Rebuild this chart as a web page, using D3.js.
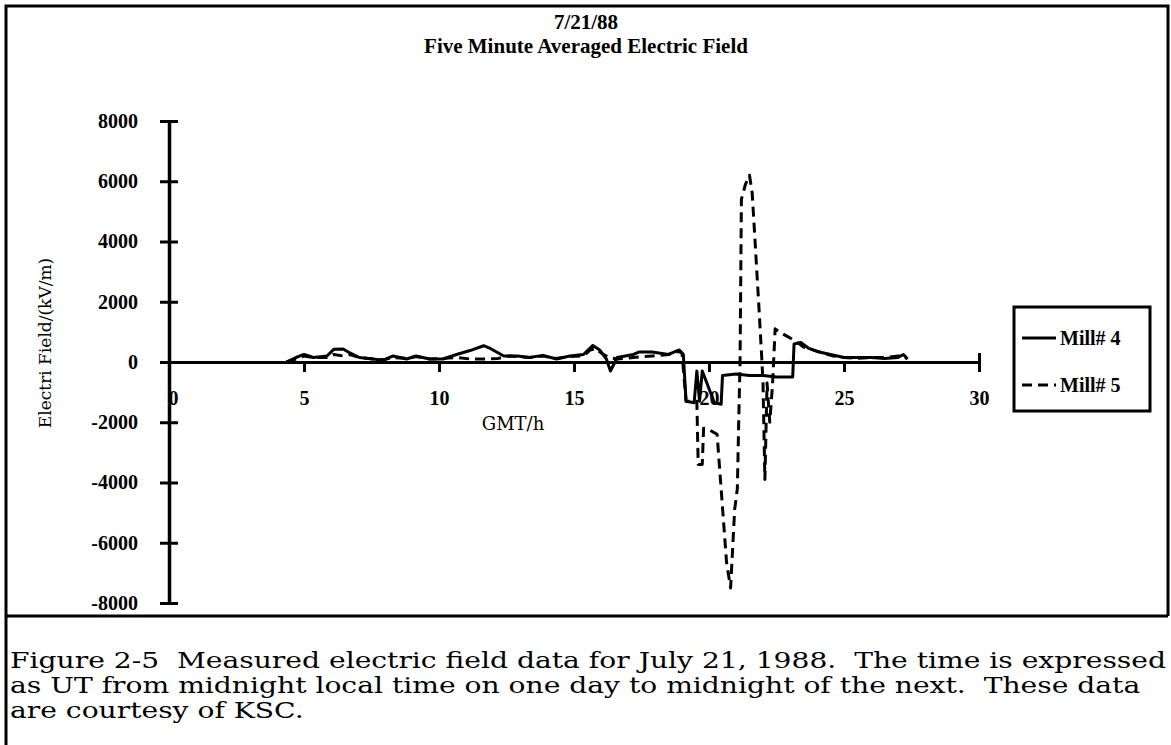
<!DOCTYPE html>
<html>
<head>
<meta charset="utf-8">
<script src="https://cdn.jsdelivr.net/npm/d3@7"></script>
<style>
  body { margin: 0; background: #fff; }
  .caption { white-space: pre; }
</style>
</head>
<body>
<script>
// hours (GMT) and field values
var mill4Time = [4.35, 4.7, 5.0, 5.35, 5.85, 6.1, 6.45, 6.7, 7.05, 7.55, 7.95, 8.3, 8.8, 9.15, 9.65, 10.15, 10.65, 11.15, 11.65, 11.9,
  12.4, 12.9, 13.35, 13.85, 14.35, 14.85, 15.35, 15.7, 15.95, 16.2, 16.35, 16.6, 17.2, 17.4, 17.9, 18.5, 18.9, 19.05, 19.15, 19.45,
  19.55, 19.65, 19.75, 20.2, 20.45, 20.5, 21.0, 21.5, 22.0, 22.5, 23.1, 23.15, 23.4, 23.7, 24.0, 24.5, 25.0, 25.5, 26.0, 26.5,
  27.0, 27.2, 27.35];
var mill4Field = [0, 150, 250, 150, 200, 420, 430, 300, 150, 100, 60, 200, 100, 200, 100, 100, 250, 380, 540, 450,
  200, 200, 150, 220, 100, 200, 250, 550, 400, 100, -300, 150, 250, 330, 330, 250, 400, 250, -1300, -1350,
  -300, -1300, -300, -1350, -1400, -450, -400, -450, -450, -500, -500, 600, 650, 450, 350, 250, 150, 150, 150, 120,
  150, 250, 100];

var mill5Time = [4.35, 4.7, 5.0, 5.35, 5.85, 6.1, 6.45, 6.7, 7.05, 7.55, 7.95, 8.3, 8.8, 9.15, 9.65, 10.15, 10.65, 11.15, 11.65, 12.2,
  12.6, 12.9, 13.35, 13.85, 14.35, 14.85, 15.35, 15.6, 15.8, 16.0, 16.3, 16.6, 17.2, 17.9, 18.5, 18.85, 19.0, 19.15, 19.55, 19.6,
  19.75, 19.8, 20.0, 20.3, 20.65, 20.8, 20.95, 21.05, 21.1, 21.15, 21.2, 21.35, 21.5, 21.6, 21.7, 21.85, 21.95, 22.0, 22.07, 22.15,
  22.25, 22.35, 22.45, 22.6, 22.9, 23.2, 23.5, 23.8, 24.2, 24.6, 25.0, 25.5, 26.0, 26.5, 27.0, 27.2, 27.35];
var mill5Field = [0, 100, 200, 150, 150, 250, 200, 250, 150, 100, 80, 150, 120, 180, 100, 120, 150, 100, 100, 120,
  200, 180, 150, 200, 120, 180, 200, 400, 450, 300, 150, 100, 150, 200, 250, 350, 300, -1300, -1300, -3400,
  -3400, -2200, -2250, -2400, -6650, -7500, -4900, -4200, -2000, 0, 5400, 5900, 6200, 5600, 4100, 1800, 200, -700, -3900, -700,
  -2000, -800, 1100, 1000, 850, 700, 500, 420, 300, 200, 150, 120, 150, 150, 200, 200, 100];

var xTicks = [0, 5, 10, 15, 20, 25, 30];
var yTicks = [8000, 6000, 4000, 2000, 0, -2000, -4000, -6000, -8000];
var seriesNames = ["Mill# 4", "Mill# 5"];
var titleLines = ["7/21/88", "Five Minute Averaged Electric Field"];
var captionLines = [
  "Figure 2-5  Measured electric field data for July 21, 1988.  The time is expressed",
  "as UT from midnight local time on one day to midnight of the next.  These data",
  "are courtesy of KSC."
];

var w = 1171, h = 745;
var boldFont = "Liberation Serif";
var plainFont = "DejaVu Serif";

var svg = d3.select("body").append("svg")
  .attr("width", w)
  .attr("height", h);

var x = d3.scaleLinear().domain([0, 30]).range([169, 979]);
var y = d3.scaleLinear().domain([-8000, 8000]).range([603, 121]);

// frame round the figure and the caption
svg.append("path")
  .attr("d", "M6,745 V6 H1168 V616 M6,616 H1168")
  .attr("fill", "none")
  .attr("stroke", "#000")
  .attr("stroke-width", 3);

// titles
svg.selectAll("text.title")
  .data(titleLines)
  .enter()
  .append("text")
  .attr("class", "title")
  .attr("x", 586)
  .attr("y", function(d, i) { return 29 + i * 24; })
  .attr("text-anchor", "middle")
  .attr("font-family", boldFont)
  .attr("font-weight", "bold")
  .attr("font-size", 21)
  .text(function(d) { return d; });

// y axis, ticks cross the line
var yAxis = d3.axisLeft(y)
  .tickValues(yTicks)
  .tickFormat(function(d) { return String(d); })
  .tickSize(9)
  .tickSizeOuter(0)
  .tickPadding(22);

var gy = svg.append("g")
  .attr("transform", "translate(" + x(0) + ",0)")
  .call(yAxis);
gy.attr("font-family", boldFont)
  .attr("font-weight", "bold")
  .attr("font-size", 20);
gy.select(".domain").attr("stroke-width", 3.5);
gy.selectAll(".tick line").attr("x1", 9).attr("stroke-width", 3);

// x axis along zero
var xAxis = d3.axisBottom(x)
  .tickValues(xTicks)
  .tickFormat(function(d) { return String(d); })
  .tickSize(10)
  .tickSizeOuter(0)
  .tickPadding(19);

var gx = svg.append("g")
  .attr("transform", "translate(0," + y(0) + ")")
  .call(xAxis);
gx.attr("font-family", boldFont)
  .attr("font-weight", "bold")
  .attr("font-size", 20);
gx.select(".domain").attr("stroke-width", 3);
gx.selectAll(".tick line")
  .attr("y1", function(d) { return d === 30 ? -9 : 0; })
  .attr("stroke-width", 3);
gx.selectAll(".tick text")
  .attr("dx", function(d) { return d === 0 ? 4 : 0; });

// axis titles
svg.append("text")
  .attr("x", 513)
  .attr("y", 430)
  .attr("text-anchor", "middle")
  .attr("font-family", plainFont)
  .attr("font-size", 18)
  .text("GMT/h");

svg.append("text")
  .attr("transform", "translate(45,343) rotate(-90)")
  .attr("text-anchor", "middle")
  .attr("dy", "0.35em")
  .attr("font-family", plainFont)
  .attr("font-size", 17)
  .text("Electri Field/(kV/m)");

// the two mills
var line = d3.line()
  .x(function(d) { return x(d[0]); })
  .y(function(d) { return y(d[1]); });

svg.append("path")
  .datum(d3.zip(mill4Time, mill4Field))
  .attr("d", line)
  .attr("fill", "none")
  .attr("stroke", "#000")
  .attr("stroke-width", 3)
  .attr("stroke-linejoin", "round");

svg.append("path")
  .datum(d3.zip(mill5Time, mill5Field))
  .attr("d", line)
  .attr("fill", "none")
  .attr("stroke", "#000")
  .attr("stroke-width", 3)
  .attr("stroke-dasharray", "10,6")
  .attr("stroke-linejoin", "round");

// legend
var legend = svg.append("g");
legend.append("rect")
  .attr("x", 1014)
  .attr("y", 307)
  .attr("width", 136)
  .attr("height", 104)
  .attr("fill", "#fff")
  .attr("stroke", "#000")
  .attr("stroke-width", 3);

var items = legend.selectAll("g.item")
  .data(seriesNames)
  .enter()
  .append("g")
  .attr("class", "item")
  .attr("transform", function(d, i) { return "translate(0," + (338 + i * 47) + ")"; });

items.append("line")
  .attr("x1", 1022)
  .attr("x2", 1056)
  .attr("stroke", "#000")
  .attr("stroke-width", 3)
  .attr("stroke-dasharray", function(d, i) { return i === 1 ? "10,6" : null; });

items.append("text")
  .attr("x", 1060)
  .attr("dy", "0.35em")
  .attr("font-family", boldFont)
  .attr("font-weight", "bold")
  .attr("font-size", 20)
  .text(function(d) { return d; });

// caption, fitted to the width of the scan
var caption = svg.selectAll("text.caption")
  .data(captionLines)
  .enter()
  .append("text")
  .attr("class", "caption")
  .attr("x", 10)
  .attr("y", function(d, i) { return 668 + i * 25; })
  .attr("font-family", plainFont)
  .attr("font-size", 22)
  .text(function(d) { return d; });

var natural = caption.nodes().map(function(n) { return n.getComputedTextLength(); });
var stretch = 1156 / natural[0];
caption
  .attr("textLength", function(d, i) { return natural[i] * stretch; })
  .attr("lengthAdjust", "spacingAndGlyphs");
</script>
</body>
</html>
